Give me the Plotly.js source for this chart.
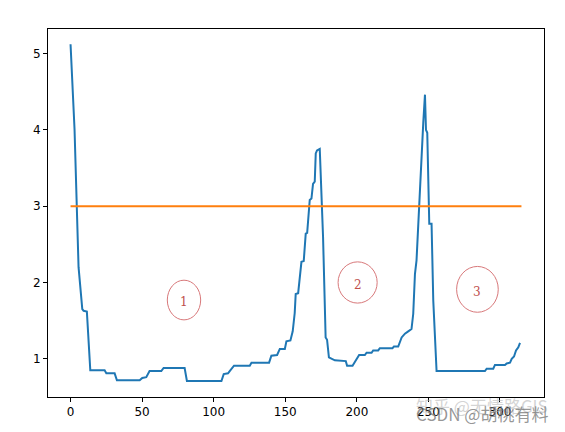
<!DOCTYPE html>
<html>
<head>
<meta charset="utf-8">
<script src="https://cdn.plot.ly/plotly-3.0.1.min.js"></script>
<style>html,body{margin:0;padding:0;background:#fff;}#chart{width:565px;height:432px;}</style>
</head>
<body>
<div id="chart"></div>
<script>
// Blue series breakpoints (x index, value)
const seriesX = [0, 2.8, 5.6, 8.2, 9.1, 11.4, 13.8, 23.8, 25, 30.8, 32.4, 48.3, 50.1, 52.9, 55.2, 63.4, 65, 79.7, 81.3,
  105.4, 107, 110, 111.2, 114.2, 125.2, 126.4, 138.7, 140.3, 144.3, 146.2, 149.7, 150.8, 153.6, 155.2, 156.6, 157.3,
  159, 160.1, 161.3, 162.9, 164.3, 165.3, 167.1, 168.3, 169.4, 170.6, 171.3, 172.2, 174.1, 176.4, 178.2, 179.2, 180.5,
  184.6, 192.3, 193.2, 197, 201.6, 205.6, 206.8, 210.3, 211.4, 214.9, 216.1, 224.9, 225.9, 228.9, 231.3, 233.6, 235.9,
  238.2, 239.4, 240.6, 241.7, 242.9, 244.1, 245.2, 246.4, 247.6, 248.3, 249.2, 250.6, 252.2, 253.4, 255.7, 289.5,
  290.7, 295.3, 296.5, 303.5, 304.7, 307, 308.2, 309.8, 311.2, 312.8, 314];
const seriesY = [5.12, 4.0, 2.2, 1.65, 1.63, 1.62, 0.85, 0.85, 0.81, 0.81, 0.72, 0.72, 0.75, 0.76, 0.84, 0.84, 0.88, 0.88, 0.71,
  0.71, 0.80, 0.81, 0.84, 0.91, 0.91, 0.95, 0.95, 1.04, 1.05, 1.13, 1.13, 1.23, 1.24, 1.36, 1.60, 1.85,
  1.86, 2.07, 2.27, 2.28, 2.64, 2.65, 3.08, 3.10, 3.29, 3.32, 3.69, 3.73, 3.75, 2.60, 1.28, 1.25, 1.02,
  0.98, 0.97, 0.91, 0.91, 1.05, 1.05, 1.08, 1.08, 1.11, 1.11, 1.14, 1.14, 1.16, 1.16, 1.28, 1.33, 1.36,
  1.39, 1.59, 2.11, 2.29, 2.77, 3.34, 3.78, 4.09, 4.46, 4.0, 3.96, 2.77, 2.77, 1.76, 0.84, 0.84,
  0.87, 0.87, 0.92, 0.92, 0.94, 0.95, 1.0, 1.03, 1.11, 1.15, 1.21];
// Threshold line
const thresholdX = [0, 315];
const thresholdY = [3, 3];
// Tick labels
const xTicks = [0, 50, 100, 150, 200, 250, 300];
const yTicks = [1, 2, 3, 4, 5];
// Hand-drawn region markers: label, x-extent, y-extent
const regionLabels = ['1', '2', '3'];
const regionX0 = [67.6, 186.9, 269.7];
const regionX1 = [90.9, 214.2, 298.8];
const regionY0 = [1.51, 1.73, 1.61];
const regionY1 = [2.03, 2.27, 2.21];
// Watermarks
const watermarks = ['知乎 @无情路GIS', 'CSDN @胡桃有料'];

const traces = [
  {x: seriesX, y: seriesY, type: 'scatter', mode: 'lines', line: {color: '#1f77b4', width: 2}, hoverinfo: 'skip'},
  {x: thresholdX, y: thresholdY, type: 'scatter', mode: 'lines', line: {color: '#ff7f0e', width: 2}, hoverinfo: 'skip'}
];

const shapes = regionLabels.map((l, i) => ({
  type: 'circle', xref: 'x', yref: 'y',
  x0: regionX0[i], x1: regionX1[i], y0: regionY0[i], y1: regionY1[i],
  line: {color: '#d8787a', width: 1}
}));
const annotations = regionLabels.map((l, i) => ({
  xref: 'x', yref: 'y', x: (regionX0[i] + regionX1[i]) / 2, y: (regionY0[i] + regionY1[i]) / 2 - 0.03,
  text: l, showarrow: false, font: {family: 'DejaVu Serif, Liberation Serif, serif', size: 12, color: '#c0504d'}
}));
annotations.push({
  xref: 'paper', yref: 'paper', x: 1.012, y: -0.022, xanchor: 'right', yanchor: 'middle',
  text: watermarks[0], showarrow: false,
  font: {family: 'Noto Sans CJK SC', size: 17, color: 'rgba(175,175,175,0.55)'}
});
annotations.push({
  xref: 'paper', yref: 'paper', x: 1.012, y: -0.046, xanchor: 'right', yanchor: 'middle',
  text: watermarks[1], showarrow: false,
  font: {family: 'Noto Sans CJK SC', size: 17, color: 'rgba(105,105,105,0.7)'}
});

const axisCommon = {
  showgrid: false, zeroline: false, showline: true, mirror: true, linecolor: '#000', linewidth: 1,
  ticks: 'outside', ticklen: 4, tickwidth: 1, tickcolor: '#000',
  tickfont: {family: 'DejaVu Sans', size: 12, color: '#000'}
};

const layout = {
  width: 565, height: 432,
  margin: {l: 48, r: 21, t: 29, b: 35},
  paper_bgcolor: '#fff', plot_bgcolor: '#fff',
  showlegend: false,
  xaxis: Object.assign({}, axisCommon, {range: [-15.75, 330.75], tickmode: 'array', tickvals: xTicks}),
  yaxis: Object.assign({}, axisCommon, {range: [0.5, 5.32], tickmode: 'array', tickvals: yTicks}),
  shapes: shapes,
  annotations: annotations
};

Plotly.newPlot('chart', traces, layout, {staticPlot: true, displayModeBar: false});
</script>
</body>
</html>
